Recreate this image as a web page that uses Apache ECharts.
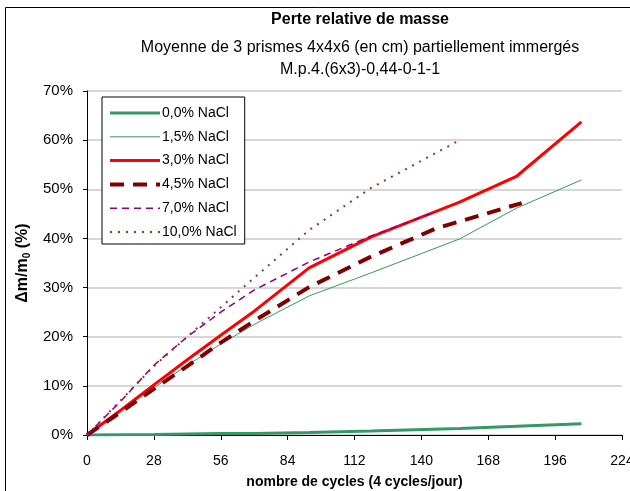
<!DOCTYPE html>
<html><head><meta charset="utf-8">
<script src="https://cdn.jsdelivr.net/npm/echarts@6/dist/echarts.min.js"></script>
<style>html,body{margin:0;padding:0;background:#fff}#c{width:630px;height:491px}</style>
</head><body><div id="c"></div>
<script>
const seriesNames = ['0,0% NaCl','1,5% NaCl','3,0% NaCl','4,5% NaCl','7,0% NaCl','10,0% NaCl'];
const x00 = [0, 28, 56, 70, 93, 119, 156, 180, 207];
const y00 = [0, 0.1, 0.3, 0.3, 0.5, 0.8, 1.3, 1.8, 2.3];
const x15 = [0, 14, 28, 42, 56, 70, 93, 119, 156, 180, 207];
const y15 = [0, 4.8, 9.6, 14.2, 18.5, 22.5, 28.3, 33.0, 39.9, 46.2, 51.9];
const x30 = [0, 14, 28, 42, 56, 70, 93, 119, 156, 180, 207];
const y30 = [0, 5.0, 10.2, 15.3, 20.3, 25.2, 34.0, 40.3, 47.4, 52.7, 63.7];
const x45 = [0, 14, 28, 42, 56, 70, 93, 119, 146, 182];
const y45 = [0, 4.6, 9.4, 14.0, 18.8, 23.2, 30.1, 36.3, 42.0, 47.2];
const x70 = [0, 14, 28, 42, 56, 70, 93, 119, 145];
const y70 = [0, 6.8, 14.2, 20.0, 25.0, 29.5, 35.2, 40.5, 45.2];
const x100 = [0, 14, 28, 42, 56, 70, 93, 119, 156];
const y100 = [0, 7.0, 14.0, 20.0, 26.0, 32.0, 41.7, 50.3, 60.0];
const xTicks = [0, 28, 56, 84, 112, 140, 168, 196, 224];
const yTicks = [0, 10, 20, 30, 40, 50, 60, 70];

const zip = (xs, ys) => xs.map((x, i) => [x, ys[i]]);
const styles = [
  {color:'#339966', width:3, type:'solid'},
  {color:'#339966', width:1, type:'solid'},
  {color:'#ff0000', width:3, type:'solid'},
  {color:'#800000', width:4, type:[14,9]},
  {color:'#8b008b', width:1.5, type:[7,5]},
  {color:'#993333', width:2, type:[2,6]}
];
const datas = [zip(x00,y00), zip(x15,y15), zip(x30,y30), zip(x45,y45), zip(x70,y70), zip(x100,y100)];
const font = 'Liberation Sans, Arial, sans-serif';

const chart = echarts.init(document.getElementById('c'), null, {renderer:'canvas'});
chart.setOption({
  animation: false,
  backgroundColor: '#fff',
  graphic: [{type:'rect', shape:{x:5.5, y:7.5, width:700, height:600}, style:{fill:'none', stroke:'#000', lineWidth:1}, z:-1}],
  title: [
    {text:'Perte relative de masse', left:355, top:7, textAlign:'center', textStyle:{fontFamily:font, fontSize:16, fontWeight:'bold', color:'#000'}},
    {text:'Moyenne de 3 prismes 4x4x6 (en cm) partiellement immergés', left:355, top:35, textAlign:'center', textStyle:{fontFamily:font, fontSize:16, fontWeight:'normal', color:'#000'}},
    {text:'M.p.4.(6x3)-0,44-0-1-1', left:355, top:57, textAlign:'center', textStyle:{fontFamily:font, fontSize:16, fontWeight:'normal', color:'#000'}}
  ],
  grid: {left:87, right:8, top:91, bottom:56, containLabel:false, outerBoundsMode:'none'},
  legend: {
    orient:'vertical', left:102, top:97,
    data: seriesNames.map((n, i) => ({name:n, lineStyle:{width:styles[i].width, color:styles[i].color, type:styles[i].type}})),
    backgroundColor:'#fff', borderColor:'#000', borderWidth:1,
    padding:[9,8,5,6], itemWidth:50, itemHeight:10, itemGap:9.8,
    itemStyle:{opacity:0},
    textStyle:{fontFamily:font, fontSize:14, color:'#000', padding:[0,0,0,-3]}
  },
  xAxis: {
    type:'value', min:xTicks[0], max:xTicks[xTicks.length-1], interval:28,
    name:'nombre de cycles (4 cycles/jour)', nameLocation:'middle', nameGap:40,
    nameTextStyle:{fontFamily:font, fontSize:14, fontWeight:'bold', color:'#000'},
    axisLine:{show:true, lineStyle:{color:'#000', width:1}},
    axisTick:{show:true, length:5, lineStyle:{color:'#000'}},
    axisLabel:{fontFamily:font, fontSize:14, color:'#000', margin:19},
    splitLine:{show:false}
  },
  yAxis: {
    type:'value', min:yTicks[0], max:yTicks[yTicks.length-1], interval:10,
    name:'{a|Δm/m}{s|0}{a| (%)}', nameLocation:'middle', nameGap:48,
    nameTextStyle:{rich:{a:{fontFamily:font, fontSize:16, fontWeight:'bold', color:'#000'}, s:{fontFamily:font, fontSize:10, fontWeight:'bold', color:'#000', verticalAlign:'bottom', padding:[8,0,0,0]}}},
    axisLine:{show:true, lineStyle:{color:'#000', width:1}},
    axisTick:{show:true, length:4, lineStyle:{color:'#000'}},
    axisLabel:{fontFamily:font, fontSize:15, color:'#000', margin:14, formatter:'{value}%'},
    splitLine:{show:true, lineStyle:{color:'#c8c8c8', width:1.5}}
  },
  series: seriesNames.map((n, i) => ({
    name:n, type:'line', data:datas[i], symbol:'none', showSymbol:false,
    lineStyle:{color:styles[i].color, width:styles[i].width, type:styles[i].type},
    itemStyle:{color:styles[i].color}
  }))
});
</script></body></html>
